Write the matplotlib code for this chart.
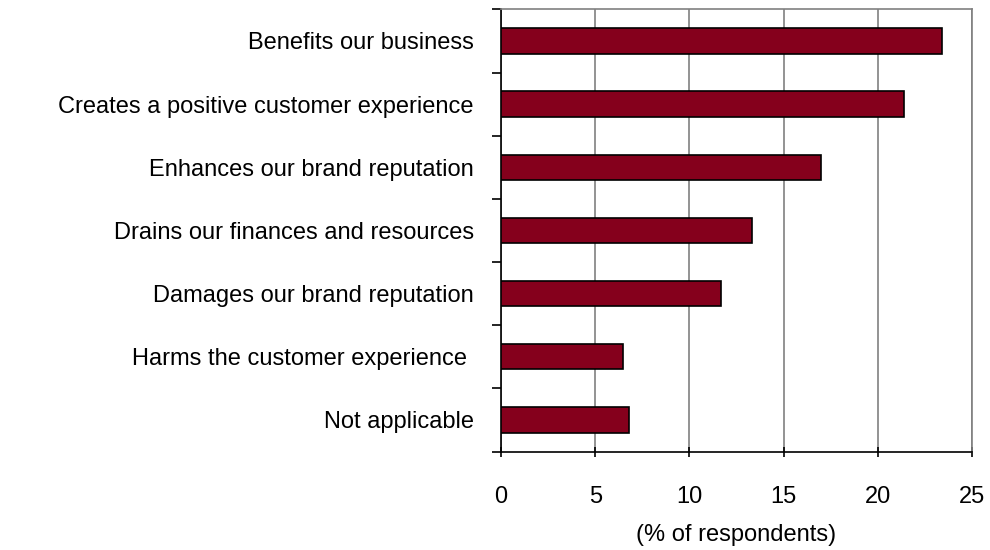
import matplotlib.pyplot as plt

plt.rcParams['font.family'] = ['Liberation Sans', 'DejaVu Sans']

categories = [
    "Benefits our business",
    "Creates a positive customer experience",
    "Enhances our brand reputation",
    "Drains our finances and resources",
    "Damages our brand reputation",
    "Harms the customer experience ",
    "Not applicable",
]
values = [23.4, 21.4, 17.0, 13.3, 11.7, 6.5, 6.8]
x_ticks = [0, 5, 10, 15, 20, 25]


def main():
    fig = plt.figure(figsize=(9.9, 5.5), dpi=100)
    ax = fig.add_axes([0.506, 0.179, 0.476, 0.804])

    pos = list(range(len(categories)))
    ax.barh(pos, values, height=0.40, color="#85001C",
            edgecolor="black", linewidth=1.2, zorder=3)

    ax.set_xlim(0, 25)
    ax.set_ylim(len(categories) - 0.5, -0.5)
    ax.set_xticks(x_ticks)
    ax.set_xticklabels([str(t) for t in x_ticks], fontsize=17)

    # category labels sit between the boundary ticks
    ax.set_yticks(pos)
    ax.set_yticklabels(categories, fontsize=17)
    ax.tick_params(axis="y", which="major", length=0, pad=19.5)
    ax.set_yticks([p - 0.5 for p in range(len(categories) + 1)], minor=True)
    ax.tick_params(axis="y", which="minor", length=6.5, width=1.2,
                   direction="out", color="black")
    ax.tick_params(axis="x", length=7, width=1.2, direction="inout",
                   pad=21, color="black")

    ax.grid(axis="x", color="#808080", linewidth=1.2, zorder=0)
    ax.spines["left"].set_color("black")
    ax.spines["left"].set_linewidth(1.2)
    ax.spines["bottom"].set_color("black")
    ax.spines["bottom"].set_linewidth(1.2)
    ax.spines["top"].set_color("#808080")
    ax.spines["right"].set_color("#808080")
    for s in ("top", "right"):
        ax.spines[s].set_linewidth(1.2)

    ax.set_xlabel("(% of respondents)", fontsize=17, labelpad=12)

    plt.savefig("out.png", dpi=100)


if __name__ == '__main__':
    main()
